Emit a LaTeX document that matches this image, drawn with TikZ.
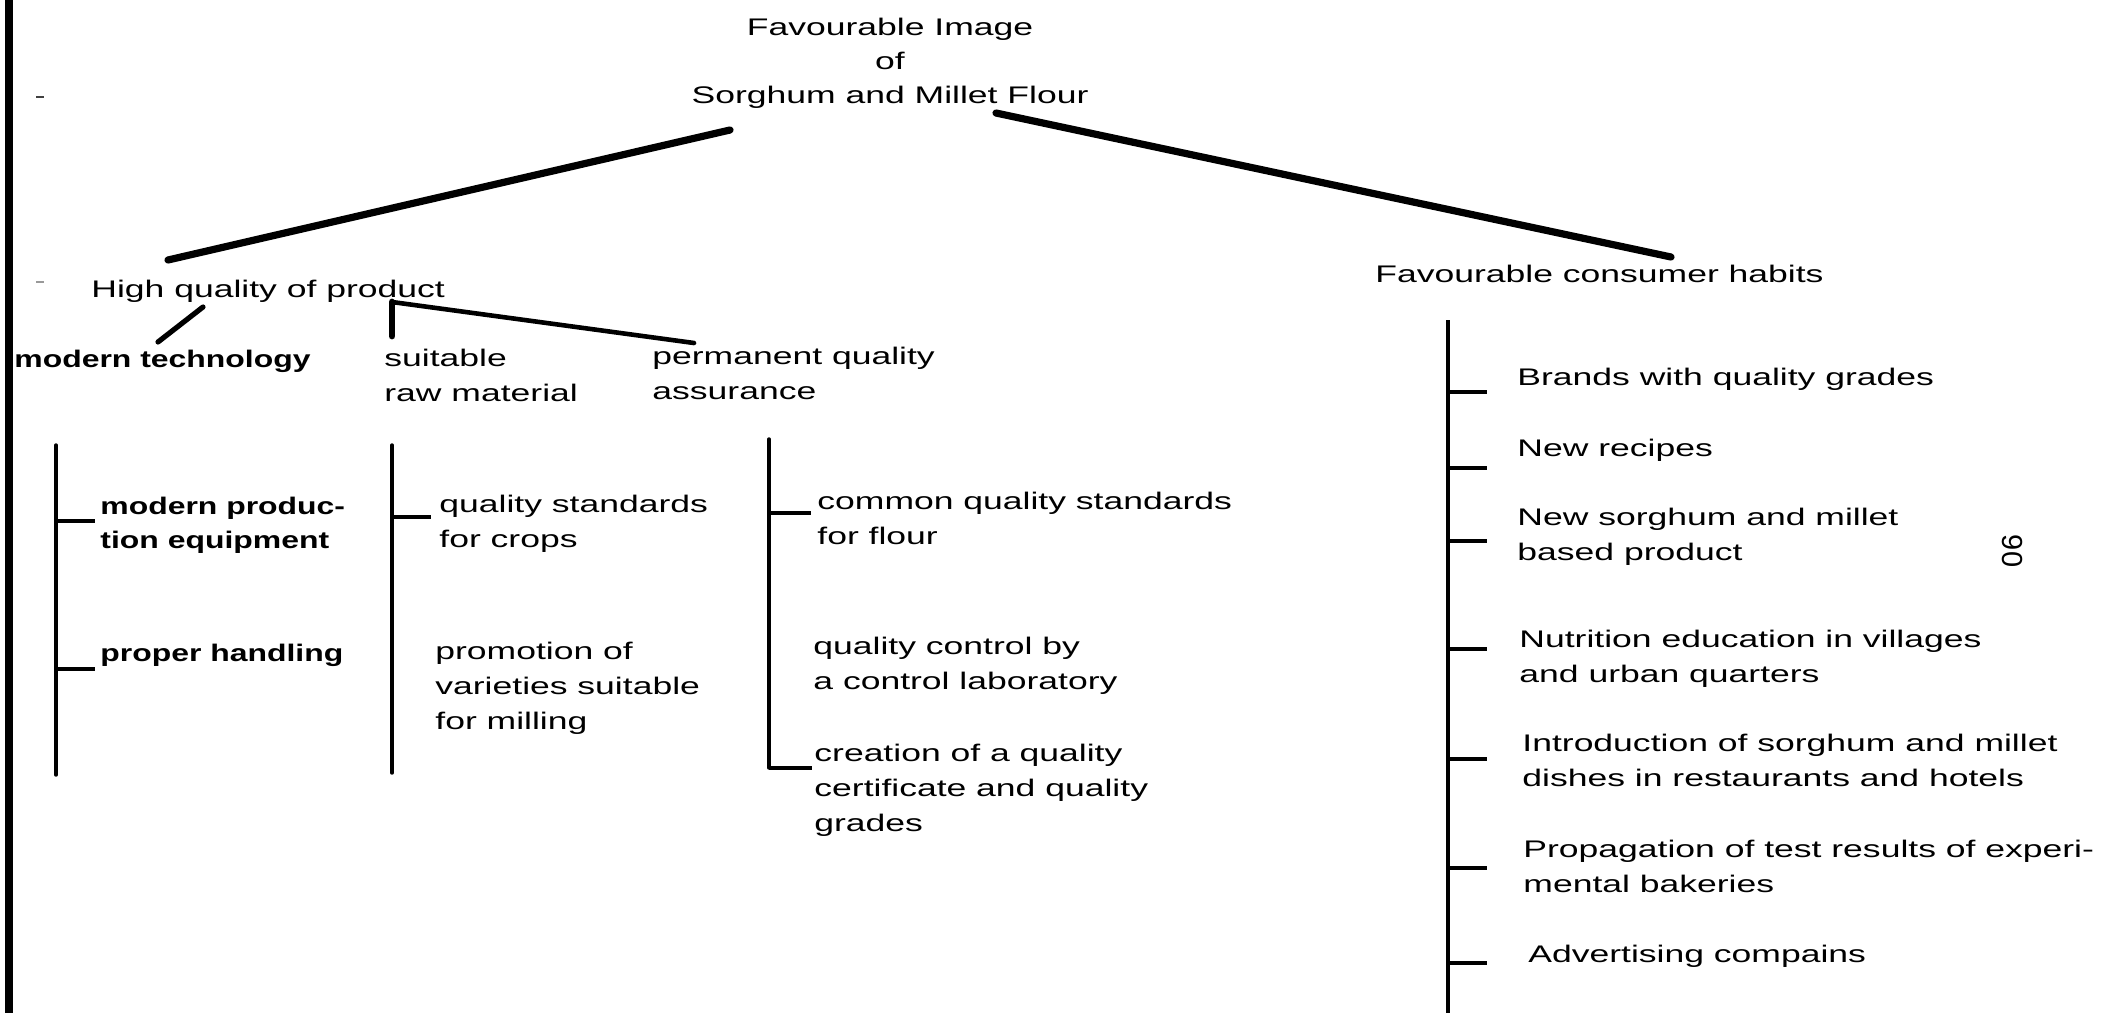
\documentclass[tikz,border=0pt]{standalone}
\usepackage{fontspec}
\setmainfont{Liberation Sans}[FakeStretch=1.48]
\newfontfamily\bfam{Liberation Sans}[FakeStretch=1.33]
\newfontfamily\pfam{Liberation Sans}
\tikzset{
  bigline/.style={line width=3.6pt, line cap=round},
  midline/.style={line width=2.6pt, line cap=round},
  barline/.style={line width=1.7pt},
  tickline/.style={line width=2.2pt},
  txt/.style={inner sep=0pt, anchor=base west, align=left, font=\fontsize{12}{17.5}\selectfont},
  btxt/.style={inner sep=0pt, anchor=base west, align=left, font=\bfam\bfseries\fontsize{12}{17}\selectfont},
}
\begin{document}
\begin{tikzpicture}[x=0.5pt, y=-0.5pt]
\useasboundingbox (0,0) rectangle (2113,1013);
\fill[white] (0,0) rectangle (2113,1013);
\clip (0,0) rectangle (2113,1013);
% left border and marks
\fill[black] (5,0) rectangle (13,1013);
\draw[line width=0.6pt, black!75] (36,97) -- (44,97);
\draw[line width=0.6pt, black!40] (36,282) -- (44,282);
% title (base = last line)
\node[inner sep=0pt, anchor=base, align=center, font=\fontsize{12}{17}\selectfont] (title) at (890,103) {Favourable Image\\of\\Sorghum and Millet Flour};
% level 1
\node[txt] (hq) at (91,297) {High quality of product};
\node[txt] (fch) at (1375,282) {Favourable consumer habits};
\coordinate (tA) at (730,130);
\coordinate (hqA) at (168,260);
\coordinate (tB) at (996,113);
\coordinate (fchB) at (1671,257);
\draw[bigline] (tA) -- (hqA);
\draw[bigline] (tB) -- (fchB);
% level 2
\node[btxt] (mt) at (14,367) {modern technology};
\node[txt] (srm) at (384,401) {suitable\\raw material};
\node[txt] (pqa) at (652,399) {permanent quality\\assurance};
\coordinate (hqC) at (203,307);
\coordinate (mtC) at (158,342);
\coordinate (hqD) at (392,302);
\coordinate (srmD) at (392,336);
\coordinate (pqaE) at (694,343);
\draw[midline] (hqC) -- (mtC);
\draw[line width=3.4pt, line cap=round] (hqD) -- (srmD);
\draw[line width=2.3pt, line cap=round] (hqD) -- (pqaE);
% column 1
\coordinate (c1t) at (56,445);
\coordinate (c1b) at (56,775);
\draw[barline, line cap=round] (c1t) -- (c1b);
\node[btxt] (mpe) at (100,548) {modern produc-\\tion equipment};
\node[btxt] (ph) at (100,661) {proper handling};
\coordinate (c1a) at (56,521);
\coordinate (c1c) at (56,669);
\draw[tickline] (c1a) -- ++(39,0);
\draw[tickline] (c1c) -- ++(39,0);
% column 2
\coordinate (c2t) at (392,445);
\coordinate (c2b) at (392,773);
\draw[barline, line cap=round] (c2t) -- (c2b);
\node[txt] (qsc) at (439,547) {quality standards\\for crops};
\node[txt] (pv) at (435,729) {promotion of\\varieties suitable\\for milling};
\coordinate (c2a) at (392,517);
\draw[tickline] (c2a) -- ++(39,0);
% column 3
\coordinate (c3t) at (769,439);
\coordinate (c3b) at (769,768);
\draw[barline, line cap=round] (c3t) -- (c3b);
\node[txt] (cqs) at (817,544) {common quality standards\\for flour};
\node[txt] (qcl) at (813,689) {quality control by\\a control laboratory};
\node[txt] (cqc) at (814,831) {creation of a quality\\certificate and quality\\grades};
\coordinate (c3a) at (769,513);
\draw[tickline] (c3a) -- ++(42,0);
\draw[tickline] (c3b) -- ++(43,0);
% right column
\coordinate (rt) at (1448,320);
\coordinate (rb) at (1448,1013);
\draw[barline] (rt) -- (rb);
\node[txt] (r1) at (1517,385) {Brands with quality grades};
\node[txt] (r2) at (1517,456) {New recipes};
\node[txt] (r3) at (1517,560) {New sorghum and millet\\based product};
\node[txt] (r4) at (1519,682) {Nutrition education in villages\\and urban quarters};
\node[txt] (r5) at (1522,786) {Introduction of sorghum and millet\\dishes in restaurants and hotels};
\node[txt] (r6) at (1523,892) {Propagation of test results of experi-\\mental bakeries};
\node[txt] (r7) at (1528,962) {Advertising compains};
\foreach \yy/\nm in {392/k1,468/k2,541/k3,649/k4,759/k5,868/k6,963/k7}{
  \coordinate (\nm) at (1448,\yy);
  \draw[tickline] (\nm) -- ++(39,0);
}
% page number
\node[inner sep=0pt, rotate=-90, font=\pfam\fontsize{14.5}{16}\selectfont] (pg) at (2012,551) {90};
\end{tikzpicture}
\end{document}
